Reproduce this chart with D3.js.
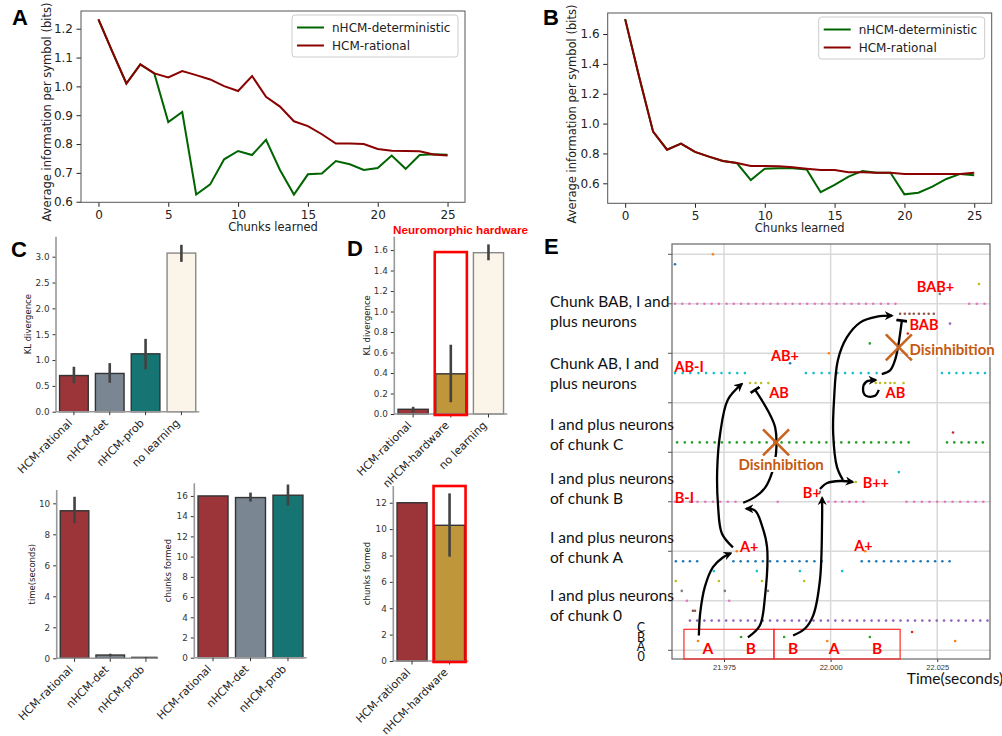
<!DOCTYPE html>
<html>
<head>
<meta charset="utf-8">
<script src="https://cdn.jsdelivr.net/npm/d3@7"></script>
<style>
  body { margin: 0; background: #fff; }
  svg { display: block; }
</style>
</head>
<body>
<script>
// ---------- data: panels A and B ----------
const chunksLearned = [0,1,2,3,4,5,6,7,8,9,10,11,12,13,14,15,16,17,18,19,20,21,22,23,24,25];
const aRational = [1.232,1.120,1.010,1.076,1.045,1.031,1.053,1.039,1.024,1.001,0.984,1.036,0.964,0.930,0.879,0.862,0.834,0.802,0.802,0.800,0.783,0.777,0.776,0.775,0.764,0.760];
const aDet      = [1.232,1.120,1.010,1.076,1.045,0.876,0.911,0.625,0.660,0.747,0.776,0.762,0.815,0.710,0.625,0.695,0.698,0.741,0.730,0.710,0.717,0.760,0.714,0.762,0.765,0.763];
const bRational = [1.700,1.314,0.946,0.825,0.866,0.810,0.779,0.750,0.736,0.716,0.716,0.714,0.707,0.698,0.689,0.689,0.674,0.674,0.671,0.671,0.663,0.663,0.663,0.663,0.663,0.671];
const bDet      = [1.700,1.314,0.946,0.825,0.866,0.810,0.779,0.750,0.736,0.622,0.698,0.700,0.700,0.692,0.540,0.589,0.645,0.683,0.671,0.671,0.526,0.537,0.578,0.629,0.663,0.654];
const abXTicks = [0,5,10,15,20,25];
const aYTicks = [0.6,0.7,0.8,0.9,1.0,1.1,1.2];
const bYTicks = [0.6,0.8,1.0,1.2,1.4,1.6];
const seriesNames = ["nHCM-deterministic","HCM-rational"];

// ---------- data: panels C and D (bar charts) ----------
const cModels = ["HCM-rational","nHCM-det","nHCM-prob","no learning"];
const cKL   = [0.70,0.74,1.12,3.07];
const cKLlo = [0.55,0.56,0.82,2.90];
const cKLhi = [0.87,0.94,1.41,3.23];
const tModels = ["HCM-rational","nHCM-det","nHCM-prob"];
const tTime   = [9.52,0.21,0.06];
const tTimeLo = [8.71,0.12,0.04];
const tTimeHi = [10.43,0.30,0.09];
const tChunks   = [16.00,15.84,16.07];
const tChunksLo = [16.00,15.44,15.05];
const tChunksHi = [16.00,16.33,17.13];
const dModels = ["HCM-rational","nHCM-hardware","no learning"];
const dKL   = [0.046,0.392,1.574];
const dKLlo = [0.013,0.115,1.500];
const dKLhi = [0.070,0.676,1.655];
const dModels2 = ["HCM-rational","nHCM-hardware"];
const dChunks   = [12.00,10.29];
const dChunksLo = [12.00,7.91];
const dChunksHi = [12.00,12.71];

// ---------- data: panel E (spike raster, times in ms after 21.960 s) ----------
const eN35 = [3.5,5.2,6.9,8.7,10.4,12.1,13.8,15.6,17.3,19.0,20.7,22.5,24.2,25.9,27.6,29.4,31.1,32.8,34.5,36.3,38.0,39.7,41.4,43.2,44.9,46.6,48.3,50.0,51.8,53.5,55.2,72.5,74.3,76.1];
const eN34 = [56.3,57.4,58.5,59.5,60.7,61.9,63.0,64.2];
const eN28 = [3.5,5.3,7.1,9.0,10.8,12.6,14.4,16.3,18.1,19.9,34.2,36.0,37.9,39.7,41.6,43.4,45.2,47.1,48.9,50.8,66.1,67.8,69.5,71.1,72.8,74.5,76.2];
const eN27 = [21.1,22.4,23.7,25.4,50.6,51.6,52.8,54.0,55.0,57.1];
const eN21 = [4.0,5.8,7.5,9.3,11.0,12.8,14.5,16.3,18.0,19.8,21.5,23.3,25.0,26.8,28.5,30.3,32.0,33.8,35.5,37.3,39.0,40.8,42.5,44.3,46.0,47.8,49.5,51.3,53.0,54.8,56.5,58.3,67.3,69.0,70.7,72.4,74.1,75.7];
const eN15 = [3.5,5.3,7.0,8.8,10.6,12.4,14.1,15.9,17.7,27.6,39.5,41.1,42.7,44.4,46.0,47.7,57.8,59.6,61.4,63.2,65.0,66.8,68.6,70.4,72.2,74.0,75.8];
const eN9  = [3.7,5.4,7.0,8.7,17.2,18.9,20.6,22.4,24.1,25.8,27.5,29.3,31.0,32.7,34.4,36.2,37.9,47.3,49.0,50.7,52.5,54.2,55.9,57.6,59.4,61.1,62.8,64.5,66.2,67.9];
const eN3  = [7.0,8.7,10.4,12.1,13.8,15.5,17.2,18.9,20.6,22.3,24.1,25.8,27.5,29.2,30.9,32.6,34.3,36.0,37.7,39.4,41.1,42.8,44.5,46.2,47.9,49.6,51.3,53.0,54.7,56.4,58.1,59.8,61.5,63.2,64.9,66.6,68.3,70.0,71.7,73.4,75.1,76.8];
// neurons that fire only a few times: [neuron, spike times]
const eSparse = [
  [40,[12.4]],[39,[3.5]],[37,[74.8]],[36,[65.6]],[33,[68.0]],[32,[58.1]],[31,[49.2]],
  [30,[39.6]],[29,[30.5]],[22,[68.7]],[18,[56.0]],[17,[45.9]],[16,[37.5]],
  [10,[18.0,48.1]],[8,[12.6,22.7,32.8,42.7]],[7,[3.7,13.8,23.9,33.8]],
  [6,[5.1,15.2,25.3]],[5,[6.3,16.2]],[4,[7.7,8.2]]
];
// input neurons 0 (A), 1 (B), 2 (C)
const eInputs = [[8.9,39.2,69.2],[19.0,29.1,49.2],[59.1]];
const eInputLevel = [0.94,1.34,1.85];
const eXTicks = [15,40,65];
const eGrid = [0,5,10,15,20,25,30,35,40];
const eInputTickText = ["C","B","A","0"];
const eInputTickLevel = [2.25,1.28,0.33,-0.68];
const eRowLabels = [["Chunk BAB, I and","plus neurons"],["Chunk AB, I and","plus neurons"],
  ["I and plus neurons","of chunk C"],["I and plus neurons","of chunk B"],
  ["I and plus neurons","of chunk A"],["I and plus neurons","of chunk 0"]];
const eRowLabelLevel = [34.2,28.0,21.8,16.3,10.4,4.5];
// stimulus sequence boxes
const eBoxes = [[5.6,26.7],[26.7,56.3]];
const eSeq = ["A","B","B","A","B"];
const eSeqMs = [11.2,21.3,31.2,40.8,50.9];
// annotations (ms, level)
const eNotes = [["BAB+",64.6,36.7],["BAB",61.9,32.9],["Disinhibition",68.5,30.4],["AB+",29.3,29.7],
  ["AB-I",6.8,28.6],["AB",27.9,26.0],["AB",55.2,26.0],["Disinhibition",28.4,18.7],
  ["B++",50.6,16.9],["B+",35.6,15.9],["B-I",5.7,15.4],["A+",20.9,10.4],["A+",47.7,10.5]];
const eCross = [[27.2,21.0],[56.0,30.6]];
const arrowAtoAplus   = [[9.1,1.5],[9.4,3.7],[10.5,6.4],[12.4,8.4],[14.8,9.4],[16.6,9.8]];
const arrowAplusToAB  = [[17.1,10.4],[14.5,11.8],[13.6,14.6],[13.4,18.2],[14.1,21.9],[15.9,25.3],[19.2,26.9]];
const arrowBtoBI      = [[20.6,1.3],[23.4,2.5],[24.6,5.4],[25.1,10.4],[23.9,12.6],[22.3,14.1],[20.2,14.3]];
const arrowBtoBplus   = [[31.2,1.5],[34.0,2.2],[35.9,3.5],[37.5,7.1],[38.0,13.1],[38.0,15.4]];
const arrowBplusToBpp = [[37.5,16.3],[39.2,16.9],[42.2,17.1],[45.2,17.0]];
const arrowBppToBAB   = [[42.9,17.2],[41.5,18.5],[40.6,21.9],[40.8,25.3],[41.7,29.3],[43.8,31.6],[46.9,33.1],[50.9,33.7],[54.4,33.8]];
const arrowABloop     = [[51.3,26.3],[50.4,25.7],[48.3,25.7],[47.6,26.4],[48.3,27.1],[50.6,27.3]];
const inhibBItoAB     = [[19.5,14.9],[22.3,15.5],[24.6,16.4],[26.3,18.0],[27.2,19.9],[27.0,22.5],[25.3,24.2],[22.3,26.3]];
const inhibABtoBAB    = [[52.0,27.9],[54.0,28.3],[55.1,29.3],[55.8,30.6],[56.4,32.3],[56.7,33.3]];

// ---------- drawing ----------
const svg = d3.select("body").append("svg")
  .attr("width", 1002).attr("height", 736)
  .style("font-family", "'DejaVu Sans', sans-serif");

const defs = svg.append("defs");
defs.append("marker").attr("id", "arr").attr("viewBox", "0 0 10 10")
  .attr("refX", 8).attr("refY", 5).attr("markerWidth", 9).attr("markerHeight", 9)
  .attr("markerUnits", "userSpaceOnUse").attr("orient", "auto")
  .append("path").attr("d", "M0,0 L10,5 L0,10 L3,5 z").attr("fill", "#000");
defs.append("marker").attr("id", "tbar").attr("viewBox", "0 0 10 10")
  .attr("refX", 5).attr("refY", 5).attr("markerWidth", 11).attr("markerHeight", 11)
  .attr("markerUnits", "userSpaceOnUse").attr("orient", "auto")
  .append("path").attr("d", "M5,0 V10").attr("stroke", "#000").attr("stroke-width", 2.5);

// panel letters
[["A",12,25],["B",543,25],["C",11,257],["D",347,256],["E",544,254]].forEach(p => {
  svg.append("text").attr("x", p[1]).attr("y", p[2]).text(p[0])
    .attr("font-family", "'Liberation Sans', Arial, sans-serif").attr("font-weight", 700).attr("font-size", 22);
});

const detColor = "#006400", ratColor = "#8b0000";

function linePanel(o) {
  const g = svg.append("g");
  const x = d3.scaleLinear().domain([-1.25, 26.25]).range([o.left, o.right]);
  const y = d3.scaleLinear().domain(o.yDom).range([o.bottom, o.top]);
  const xa = g.append("g").attr("transform", `translate(0,${o.bottom})`)
    .call(d3.axisBottom(x).tickValues(abXTicks).tickSize(4.5).tickPadding(3.5));
  const ya = g.append("g").attr("transform", `translate(${o.left},0)`)
    .call(d3.axisLeft(y).tickValues(o.yTicks).tickFormat(d3.format(".1f")).tickSize(4.5).tickPadding(3.5));
  [xa, ya].forEach(a => {
    a.attr("font-size", 12).attr("font-family", "'DejaVu Sans', sans-serif").attr("color", "#222");
    a.select(".domain").remove();
  });
  g.append("rect").attr("x", o.left).attr("y", o.top)
    .attr("width", o.right - o.left).attr("height", o.bottom - o.top)
    .attr("fill", "none").attr("stroke", "#555").attr("stroke-width", 1);

  const line = d3.line().x((d, i) => x(chunksLearned[i])).y(d => y(d));
  g.append("path").attr("d", line(o.det)).attr("fill", "none")
    .attr("stroke", detColor).attr("stroke-width", 2);
  g.append("path").attr("d", line(o.rat)).attr("fill", "none")
    .attr("stroke", ratColor).attr("stroke-width", 2);

  // legend
  const lx = o.right - 173, ly = o.top + 4;
  g.append("rect").attr("x", lx).attr("y", ly).attr("width", 166).attr("height", 42).attr("rx", 3)
    .attr("fill", "#fff").attr("fill-opacity", 0.8).attr("stroke", "#ccc");
  [detColor, ratColor].forEach((c, i) => {
    const yy = ly + 12.5 + i * 18;
    g.append("line").attr("x1", lx + 5).attr("x2", lx + 32).attr("y1", yy).attr("y2", yy)
      .attr("stroke", c).attr("stroke-width", 2);
    g.append("text").attr("x", lx + 40).attr("y", yy).attr("dy", "0.35em")
      .attr("font-size", 12).attr("fill", "#222").text(seriesNames[i]);
  });

  g.append("text").attr("x", (o.left + o.right) / 2).attr("y", o.bottom + 29)
    .attr("text-anchor", "middle").attr("font-size", 11.5).attr("fill", "#222").text("Chunks learned");
  g.append("text").attr("transform", `translate(${o.ylx},${o.ylc}) rotate(-90)`)
    .attr("text-anchor", "middle").attr("font-size", 11.5).attr("fill", "#222")
    .text("Average information per symbol (bits)");
}

linePanel({left: 81, right: 465, top: 11, bottom: 202.3, yDom: [0.598, 1.2614], yTicks: aYTicks,
  det: aDet, rat: aRational, ylx: 51, ylc: 112});
linePanel({left: 607.7, right: 991.7, top: 13, bottom: 203.3, yDom: [0.466, 1.741], yTicks: bYTicks,
  det: bDet, rat: bRational, ylx: 576, ylc: 114});

// bar charts
const barColor = {"HCM-rational": "#9b3539", "nHCM-det": "#7a8793", "nHCM-prob": "#167572",
  "no learning": "#fbf4e8", "nHCM-hardware": "#bf9639"};

function barPanel(o) {
  const g = svg.append("g");
  const n = o.cats.length;
  const x = d3.scaleBand().domain(o.cats).range([o.left, o.left + o.step * n])
    .paddingInner(0.2).paddingOuter(0.1);
  const y = d3.scaleLinear().domain([0, o.yMax]).range([o.bottom, o.top]);
  let plot = g;
  if (o.clipRight) {
    const id = "clip" + Math.round(o.left);
    defs.append("clipPath").attr("id", id).append("rect")
      .attr("x", o.left - 40).attr("y", o.top - 10).attr("width", o.clipRight - o.left + 40).attr("height", o.bottom - o.top + 20);
    plot = g.append("g").attr("clip-path", `url(#${id})`);
  }
  const ya = g.append("g").attr("transform", `translate(${o.left},0)`)
    .call(d3.axisLeft(y).tickValues(o.ticks).tickFormat(d3.format(o.fmt)).tickSize(3.5).tickPadding(3));
  ya.attr("font-size", 8.8).attr("font-family", "'DejaVu Sans', sans-serif").attr("color", "#333");
  ya.select(".domain").remove();
  g.append("line").attr("x1", o.left).attr("x2", o.left).attr("y1", o.top).attr("y2", o.bottom)
    .attr("stroke", "#999").attr("stroke-width", 1.6);

  plot.selectAll("rect.bar").data(o.cats).join("rect").attr("class", "bar")
    .attr("x", d => x(d)).attr("width", x.bandwidth())
    .attr("y", (d, i) => y(o.vals[i])).attr("height", (d, i) => o.bottom - y(o.vals[i]))
    .attr("fill", d => barColor[d])
    .attr("stroke", d => d === "no learning" ? "#888" : "#333").attr("stroke-width", 1.4);
  plot.append("line").attr("x1", o.left).attr("x2", o.left + o.step * n)
    .attr("y1", o.bottom).attr("y2", o.bottom).attr("stroke", "#999").attr("stroke-width", 1.6);
  plot.selectAll("line.tk").data(o.cats).join("line").attr("class", "tk")
    .attr("x1", d => x(d) + x.bandwidth() / 2).attr("x2", d => x(d) + x.bandwidth() / 2)
    .attr("y1", o.bottom).attr("y2", o.bottom + 3.5).attr("stroke", "#333");
  plot.selectAll("line.err").data(o.cats).join("line").attr("class", "err")
    .attr("x1", d => x(d) + x.bandwidth() / 2).attr("x2", d => x(d) + x.bandwidth() / 2)
    .attr("y1", (d, i) => y(o.lo[i])).attr("y2", (d, i) => y(o.hi[i]))
    .attr("stroke", "#424242").attr("stroke-width", 2.6);

  if (o.highlight) {
    const h = o.highlight;
    g.append("rect").attr("x", x(h) - 1).attr("width", x.bandwidth() + 2)
      .attr("y", y(o.hlTop)).attr("height", o.bottom + 1 - y(o.hlTop))
      .attr("fill", "none").attr("stroke", "#ff0000").attr("stroke-width", 2.6);
  }

  g.selectAll("text.cat").data(o.cats).join("text").attr("class", "cat")
    .attr("transform", d => `translate(${x(d) + x.bandwidth() / 2 - 1},${o.bottom + 12}) rotate(-45)`)
    .attr("text-anchor", "end").attr("font-size", 11).attr("fill", "#222").text(d => d);
  g.append("text").attr("transform", `translate(${o.ylx},${(o.top + o.bottom) / 2}) rotate(-90)`)
    .attr("text-anchor", "middle").attr("font-size", 8.5).attr("fill", "#222").text(o.ylabel);
}

barPanel({cats: cModels, vals: cKL, lo: cKLlo, hi: cKLhi, left: 56, step: 35.83, top: 236.7, bottom: 411.7,
  yMax: 3.387, ticks: [0,0.5,1.0,1.5,2.0,2.5,3.0], fmt: ".1f", ylabel: "KL divergence", ylx: 31});
barPanel({cats: dModels, vals: dKL, lo: dKLlo, hi: dKLhi, left: 394.3, step: 37.67, top: 236.7, bottom: 414,
  yMax: 1.73, ticks: [0,0.2,0.4,0.6,0.8,1.0,1.2,1.4,1.6], fmt: ".1f", ylabel: "KL divergence", ylx: 370,
  highlight: "nHCM-hardware", hlTop: 1.58});
barPanel({cats: tModels, vals: tTime, lo: tTimeLo, hi: tTimeHi, left: 56.7, step: 35.7, top: 490, bottom: 658.3,
  yMax: 10.86, ticks: [0,2,4,6,8,10], fmt: "d", ylabel: "time(seconds)", ylx: 35, clipRight: 157.5});
barPanel({cats: tModels, vals: tChunks, lo: tChunksLo, hi: tChunksHi, left: 194.3, step: 37.47, top: 483.3, bottom: 657.7,
  yMax: 17.25, ticks: [0,2,4,6,8,10,12,14,16], fmt: "d", ylabel: "chunks formed", ylx: 171});
barPanel({cats: dModels2, vals: dChunks, lo: dChunksLo, hi: dChunksHi, left: 393.3, step: 37.5, top: 486, bottom: 661,
  yMax: 13.27, ticks: [0,2,4,6,8,10,12], fmt: "d", ylabel: "chunks formed", ylx: 370,
  highlight: "nHCM-hardware", hlTop: 13.27});

svg.append("text").attr("x", 393).attr("y", 234).attr("font-family", "'Liberation Sans', Arial, sans-serif")
  .attr("font-weight", 700).attr("font-size", 11.7).attr("fill", "#ff0000").text("Neuromorphic hardware");

// ---------- panel E ----------
const eX = d3.scaleLinear().domain([2.8, 77.38]).range([672, 990]);
const eY = d3.scaleLinear().domain([-0.88, 41.04]).range([659, 244]);
const eg = svg.append("g");
const lato = "Lato, 'Open Sans', sans-serif";

eg.selectAll("line.hg").data(eGrid).join("line").attr("class", "hg")
  .attr("x1", eX.range()[0]).attr("x2", eX.range()[1]).attr("y1", d => eY(d)).attr("y2", d => eY(d))
  .attr("stroke", "#d9d9d9").attr("stroke-width", 1.5);
eg.selectAll("line.vg").data(eXTicks).join("line").attr("class", "vg")
  .attr("x1", d => eX(d)).attr("x2", d => eX(d)).attr("y1", eY.range()[0]).attr("y2", eY.range()[1])
  .attr("stroke", "#d9d9d9").attr("stroke-width", 1.5);
eg.selectAll("line.ytk").data(eGrid).join("line").attr("class", "ytk")
  .attr("x1", eX.range()[0] - 4).attr("x2", eX.range()[0]).attr("y1", d => eY(d)).attr("y2", d => eY(d))
  .attr("stroke", "#555");
const exa = eg.append("g").attr("transform", `translate(0,${eY.range()[0]})`)
  .call(d3.axisBottom(eX).tickValues(eXTicks).tickFormat(d => (21.96 + d / 1000).toFixed(3)).tickSize(3).tickPadding(3));
exa.attr("font-size", 7.5).attr("color", "#333");
exa.select(".domain").remove();
eg.append("rect").attr("x", 672).attr("y", 244).attr("width", 318).attr("height", 415)
  .attr("fill", "none").attr("stroke", "#666").attr("stroke-width", 1.2);

// stimulus boxes
eg.selectAll("rect.box").data(eBoxes).join("rect").attr("class", "box")
  .attr("x", d => eX(d[0])).attr("width", d => eX(d[1]) - eX(d[0]))
  .attr("y", eY(2.12)).attr("height", eY(-0.88) - eY(2.12))
  .attr("fill", "none").attr("stroke", "#ff2a2a").attr("stroke-width", 1.2);

// spikes
const spikes = [];
[[35, eN35], [34, eN34], [28, eN28], [27, eN27], [21, eN21], [15, eN15], [9, eN9], [3, eN3]]
  .concat(eSparse)
  .forEach(([n, ts]) => ts.forEach(t => spikes.push({t, lv: n, n})));
eInputs.forEach((ts, n) => ts.forEach(t => spikes.push({t, lv: eInputLevel[n], n})));
const tab10 = d3.schemeCategory10;
eg.selectAll("circle.sp").data(spikes).join("circle").attr("class", "sp")
  .attr("cx", d => eX(d.t)).attr("cy", d => eY(d.lv)).attr("r", 1.3)
  .attr("fill", d => tab10[(d.n + 1) % 10]);

// arrows
const curve = d3.line().x(d => eX(d[0])).y(d => eY(d[1])).curve(d3.curveCatmullRom.alpha(0.5));
[arrowAtoAplus, arrowAplusToAB, arrowBtoBI, arrowBtoBplus, arrowBplusToBpp, arrowBppToBAB, arrowABloop]
  .forEach(p => eg.append("path").attr("d", curve(p)).attr("fill", "none")
    .attr("stroke", "#000").attr("stroke-width", 2.3).attr("marker-end", "url(#arr)"));
[inhibBItoAB, inhibABtoBAB]
  .forEach(p => eg.append("path").attr("d", curve(p)).attr("fill", "none")
    .attr("stroke", "#000").attr("stroke-width", 2.3).attr("marker-end", "url(#tbar)"));

// disinhibition crosses
eCross.forEach(([t, lv]) => {
  const cx = eX(t), cy = eY(lv), s = 13;
  eg.append("path").attr("d", `M${cx - s},${cy - s}L${cx + s},${cy + s}M${cx + s},${cy - s}L${cx - s},${cy + s}`)
    .attr("stroke", "#c8641e").attr("stroke-width", 2.6);
});

// annotation labels
eg.selectAll("text.note").data(eNotes).join("text").attr("class", "note")
  .attr("x", d => eX(d[1])).attr("y", d => eY(d[2])).attr("dy", "0.35em")
  .attr("text-anchor", "middle").attr("font-family", lato).attr("font-weight", 700)
  .attr("font-size", d => d[0] === "Disinhibition" ? 15 : 14.5)
  .attr("fill", d => d[0] === "Disinhibition" ? "#c55a11" : "#ff0000")
  .attr("stroke", "#fff").attr("stroke-width", d => d[0] === "Disinhibition" ? 4 : 0)
  .attr("paint-order", "stroke").text(d => d[0]);
eg.selectAll("text.seq").data(eSeq).join("text").attr("class", "seq")
  .attr("x", (d, i) => eX(eSeqMs[i])).attr("y", eY(0.13)).attr("dy", "0.35em")
  .attr("text-anchor", "middle").attr("font-family", lato).attr("font-weight", 700)
  .attr("font-size", 15.5).attr("fill", "#ff0000").text(d => d);

// row labels on the left
eRowLabels.forEach((lines, i) => {
  lines.forEach((s, j) => {
    eg.append("text").attr("x", 550).attr("y", eY(eRowLabelLevel[i]) + (j === 0 ? -10 : 10)).attr("dy", "0.35em")
      .attr("font-family", lato).attr("font-size", 15.5).attr("fill", "#111").text(s);
  });
});
// stacked input-neuron tick labels (they crowd each other in the original too)
eg.selectAll("text.inp").data(eInputTickText).join("text").attr("class", "inp")
  .attr("x", 641).attr("y", (d, i) => eY(eInputTickLevel[i])).attr("dy", "0.35em")
  .attr("text-anchor", "middle").attr("font-family", lato).attr("font-size", 12.5).attr("fill", "#111").text(d => d);
eg.append("text").attr("x", 955).attr("y", 679).attr("dy", "0.35em").attr("text-anchor", "middle")
  .attr("font-family", lato).attr("font-size", 15.5).attr("fill", "#111").text("Time(seconds)");
</script>
</body>
</html>
